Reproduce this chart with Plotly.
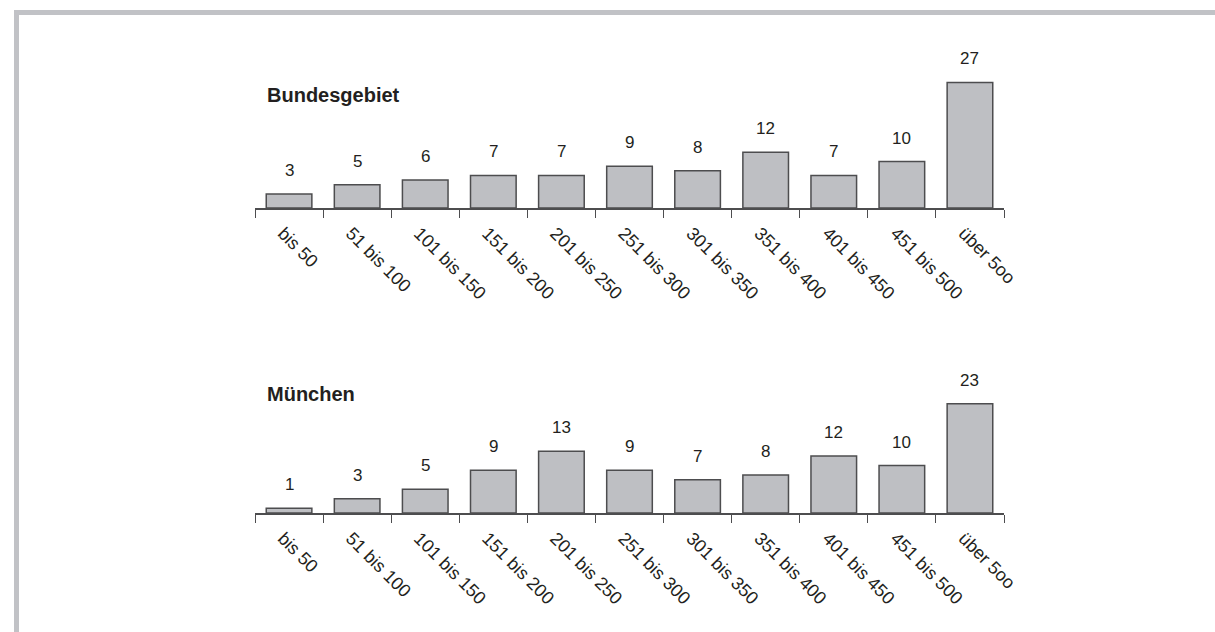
import plotly.graph_objects as go
from plotly.subplots import make_subplots

# Kategorien (Größenklassen) und Anteile
categories = ["bis 50", "51 bis 100", "101 bis 150", "151 bis 200", "201 bis 250",
              "251 bis 300", "301 bis 350", "351 bis 400", "401 bis 450",
              "451 bis 500", "über 5oo"]
bund_values = [3, 5, 6, 7, 7, 9, 8, 12, 7, 10, 27]
muc_values = [1, 3, 5, 9, 13, 9, 7, 8, 12, 10, 23]
titles = ["Bundesgebiet", "München"]

W, H = 1215, 632
FONT = "Arial, Liberation Sans, Helvetica, sans-serif"
TEXT = "#231f20"
BAR_FILL = "#bebfc3"
LINE = "#4d4d4f"


def px_x(p):
    return p / W


def px_y(p):
    return 1 - p / H


fig = make_subplots(rows=2, cols=1)

panels = [
    # (values, axis zero px, top of plot px, px per unit)
    (bund_values, 208, 55, 4.65),
    (muc_values, 513, 360, 4.75),
]

for i, (vals, zero_px, top_px, scale) in enumerate(panels):
    row = i + 1
    fig.add_trace(
        go.Bar(
            x=categories, y=vals, width=0.67,
            marker=dict(color=BAR_FILL, line=dict(color=LINE, width=1.5)),
            showlegend=False, hoverinfo="x+y",
        ),
        row=row, col=1,
    )
    xa = "xaxis" if row == 1 else f"xaxis{row}"
    ya = "yaxis" if row == 1 else f"yaxis{row}"
    fig.layout[xa].update(
        domain=[px_x(255), px_x(1004)],
        type="category", range=[-0.5, 10.5], automargin=False,
        showline=True, linecolor=LINE, linewidth=1.5,
        ticks="outside", tickson="boundaries", ticklen=8,
        tickcolor=LINE, tickwidth=1.2,
        tickangle=45, ticklabelstandoff=6, ticklabelshift=-6,
        tickfont=dict(family=FONT, size=18, color=TEXT),
        showgrid=False, zeroline=False,
    )
    fig.layout[ya].update(
        domain=[px_y(zero_px), px_y(top_px)],
        range=[0, (zero_px - top_px) / scale], automargin=False,
        visible=False, showgrid=False, zeroline=False,
    )
    xref = "x" if row == 1 else f"x{row}"
    yref = "y" if row == 1 else f"y{row}"
    for c, v in zip(categories, vals):
        fig.add_annotation(
            x=c, y=v, xref=xref, yref=yref, text=str(v), showarrow=False,
            yanchor="bottom", yshift=12,
            font=dict(family=FONT, size=17, color=TEXT),
        )

# Panel titles
for t, y in zip(titles, [95, 394]):
    fig.add_annotation(
        x=px_x(265), y=px_y(y), xref="paper", yref="paper", text=f"<b>{t}</b>",
        showarrow=False, xanchor="left", yanchor="middle",
        font=dict(family=FONT, size=20, color=TEXT),
    )

# Frame on top and left edges
frame = "#c1c2c6"
fig.add_shape(type="line", xref="paper", yref="paper",
              x0=px_x(14), x1=1.0, y0=px_y(12.5), y1=px_y(12.5),
              line=dict(color=frame, width=5))
fig.add_shape(type="line", xref="paper", yref="paper",
              x0=px_x(16.5), x1=px_x(16.5), y0=0, y1=px_y(10),
              line=dict(color=frame, width=5))

fig.update_layout(
    width=W, height=H, margin=dict(l=0, r=0, t=0, b=0, pad=0, autoexpand=False),
    paper_bgcolor="white", plot_bgcolor="white",
    bargap=0.33, font=dict(family=FONT, color=TEXT),
)

# keep the page exactly the figure size (no body margin, no scrollbars)
page_css = (
    "document.body.style.margin='0';"
    "document.body.style.overflow='hidden';"
    "document.documentElement.style.overflow='hidden';"
)

fig.write_html("out.html", config={"responsive": False}, post_script=page_css)
